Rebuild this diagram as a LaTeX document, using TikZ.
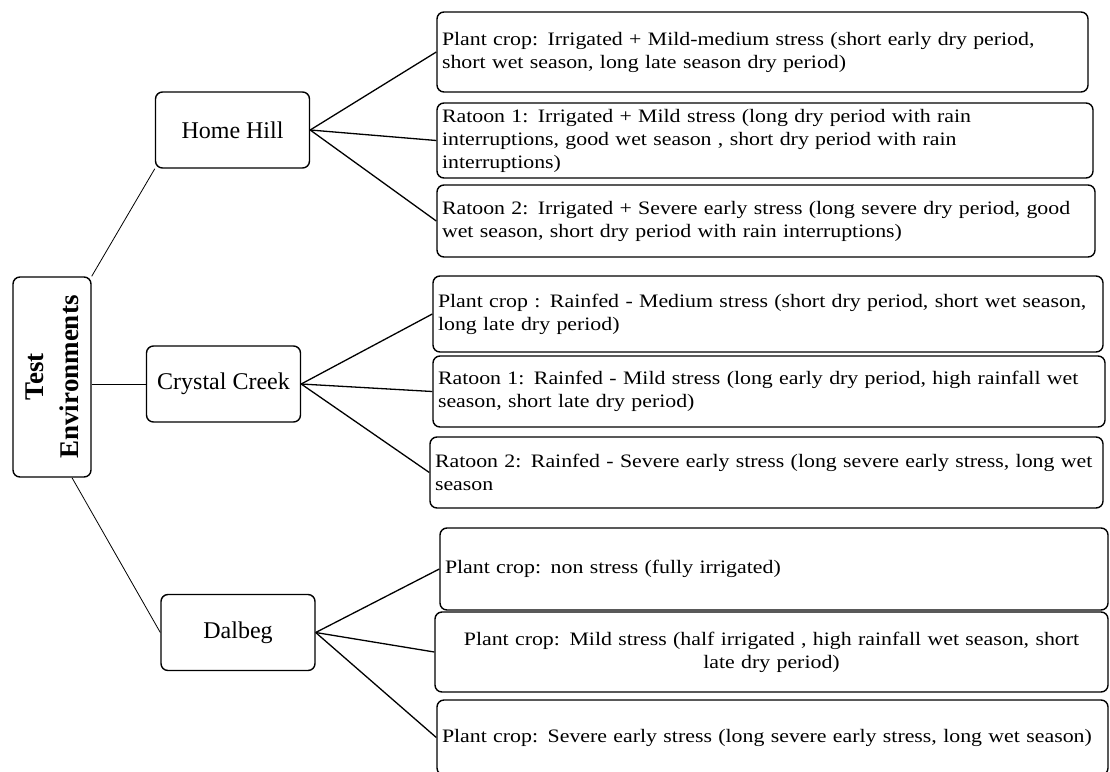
\documentclass[tikz,border=0pt]{standalone}
\usepackage{fontspec}
\setmainfont{Liberation Serif}
\newfontfamily\boxfont{Liberation Serif}[FakeStretch=1.15]
\usetikzlibrary{positioning}

\begin{document}
\begin{tikzpicture}[x=1pt, y=-1pt, every node/.style={inner sep=5pt}]
            \tikzset{
                site/.style={
                        draw, rounded corners=7pt, line width=1.4pt,
                        minimum width=154pt, minimum height=76pt,
                        font=\fontsize{24}{28}\selectfont
                    },
                trial/.style={
                        draw, rounded corners=7pt, line width=1.4pt,
                        align=left, font=\boxfont\fontsize{19}{23}\selectfont
                    },
                branch/.style={line width=1.3pt},
                stem/.style={line width=0.8pt}
            }
            \useasboundingbox (0,0) rectangle (1110,771);
            \clip (0,0) rectangle (1110,771);

            % Root box
            \node[draw, rounded corners=7pt, line width=1.4pt, rotate=90, align=center,
                  minimum width=200pt, minimum height=78pt,
                  font=\bfseries\fontsize{27}{35}\selectfont] (env) at (52,377) {Test\\Environments};

            % Sites
            \node[site] (home) at (232.5,130) {Home Hill};
            \node[site] (creek) at (223.5,384) {Crystal Creek};
            \node[site] (dalbeg) at (238,632.5) {Dalbeg};

            % Home Hill trials
            \node[trial, text width=641pt, minimum height=80pt] (home1) at (762.5,52)
                {Plant crop:  Irrigated + Mild-medium  stress (short early dry period,\\short wet season,  long late season dry period)};
            \node[trial, text width=646pt, minimum height=75pt] (home2) at (765,140.5)
                {Ratoon 1: Irrigated + Mild stress  (long  dry period with rain\\interruptions, good wet season ,  short dry period  with rain\\interruptions)};
            \node[trial, text width=648pt, minimum height=72pt] (home3) at (766,221)
                {Ratoon  2:  Irrigated + Severe early stress  (long severe dry period,  good\\wet season, short dry period  with rain interruptions)};

            % Crystal Creek trials
            \node[trial, text width=660pt, minimum height=76pt] (creek1) at (768,314)
                {Plant crop : Rainfed  - Medium stress  (short dry period, short wet season,\\long  late dry period)};
            \node[trial, text width=662pt, minimum height=71pt] (creek2) at (769,391.5)
                {Ratoon  1: Rainfed  - Mild stress (long early dry period,  high rainfall  wet\\season,  short late dry period)};
            \node[trial, text width=663pt, minimum height=71pt] (creek3) at (766.5,472.5)
                {Ratoon  2: Rainfed  - Severe early stress  (long severe early stress, long wet\\season};

            % Dalbeg trials
            \node[trial, text width=658pt, minimum height=82pt] (dalbeg1) at (774,569)
                {Plant crop:   non stress (fully irrigated)};
            \node[trial, text width=663pt, minimum height=80pt, align=center] (dalbeg2) at (771.5,652)
                {Plant crop:   Mild stress (half irrigated , high rainfall wet season,  short\\late dry period)};
            \node[trial, text width=661pt, minimum height=75pt] (dalbeg3) at (772.5,737.5)
                {Plant crop:  Severe  early stress (long severe early stress,  long wet season)};

            % Root to sites
            \draw[stem] (env.south east) -- (home.south west);
            \draw[stem] (creek.west) -- (creek.west -| env.south);
            \draw[stem] ([xshift=20pt]env.west) -- (dalbeg.west);

            % Sites to trials
            \draw[branch] (home.east) -- (home1.west);
            \draw[branch] (home.east) -- (home2.west);
            \draw[branch] (home.east) -- (home3.west);
            \draw[branch] (creek.east) -- (creek1.west);
            \draw[branch] (creek.east) -- (creek2.west);
            \draw[branch] (creek.east) -- (creek3.west);
            \draw[branch] (dalbeg.east) -- (dalbeg1.west);
            \draw[branch] (dalbeg.east) -- (dalbeg2.west);
            \draw[branch] (dalbeg.east) -- (dalbeg3.west);
        \end{tikzpicture}
\end{document}
